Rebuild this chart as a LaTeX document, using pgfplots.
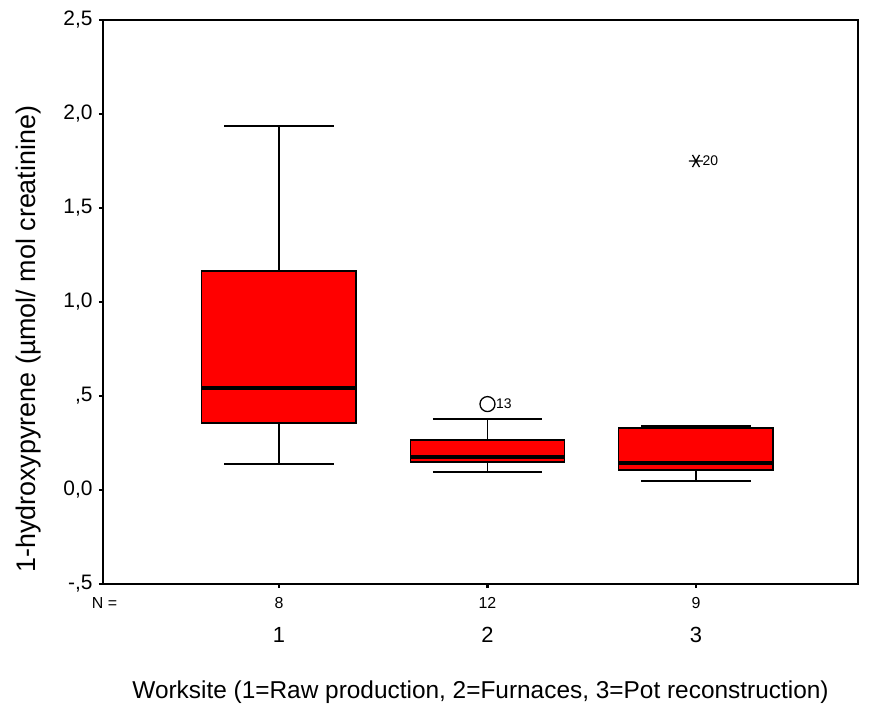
\documentclass[border=0pt]{standalone}
\usepackage{pgfplots}
\pgfplotsset{compat=1.18}
\usepgfplotslibrary{statistics}
\usepackage{fontspec}
\setmainfont{Liberation Sans}
\begin{document}
\begin{tikzpicture}
\useasboundingbox (-103bp,-135bp) rectangle (787bp,584bp);
\begin{axis}[
  at={(0,0)}, anchor=south west,
  scale only axis, width=755bp, height=564bp,
  xmin=0.156, xmax=3.777, ymin=-0.5, ymax=2.5,
  axis line style={line width=1.2bp},
  ytick={-0.5,0,0.5,1,1.5,2,2.5},
  yticklabels={{-,5},{0,0},{,5},{1,0},{1,5},{2,0},{2,5}},
  xtick={1,2,3}, xticklabels={1,2,3},
  tick align=outside, major tick length=4bp,
  tick style={line width=2.5bp, black},
  xtick pos=bottom, ytick pos=left,
  yticklabel style={font=\fontsize{21}{25}\selectfont, xshift=-3bp},
  xticklabel style={font=\fontsize{22}{26}\selectfont, yshift=-36bp},
  xlabel={Worksite (1=Raw production, 2=Furnaces, 3=Pot reconstruction)},
  xlabel style={font=\fontsize{24.5}{29}\selectfont, at={(axis description cs:0.5,0)}, anchor=center, yshift=-108bp},
  ylabel={1-hydroxypyrene (µmol/ mol creatinine)},
  ylabel style={font=\fontsize{27}{32}\selectfont, at={(axis description cs:-0.0987,0.434)}, anchor=center},
  boxplot/draw direction=y,
  boxplot/box extend=0.74,
  boxplot/whisker extend=0.523,
  boxplot/every box/.style={fill=red, draw=black, line width=1.3bp},
  boxplot/every whisker/.style={black, line width=1.3bp},
  boxplot/every median/.style={black, line width=4.5bp},
  clip=false,
]
\addplot+[mark=none, boxplot prepared={draw position=1, lower whisker=0.138, lower quartile=0.356, median=0.543, upper quartile=1.165, upper whisker=1.936}] coordinates {};
\addplot+[mark=none, boxplot prepared={draw position=2, lower whisker=0.096, lower quartile=0.149, median=0.176, upper quartile=0.266, upper whisker=0.378}] coordinates {};
\addplot+[mark=none, boxplot prepared={draw position=3, lower whisker=0.048, lower quartile=0.106, median=0.144, upper quartile=0.33, upper whisker=0.34}] coordinates {};
\addplot[only marks, mark=o, mark size=7.5bp, line width=1.3bp, black,
  nodes near coords, point meta=explicit symbolic,
  nodes near coords style={anchor=west, xshift=8bp, yshift=0bp, inner sep=0pt, font=\fontsize{14}{16}\selectfont}]
  coordinates {(2,0.457) [13]};
\addplot[only marks, mark=asterisk, mark size=7bp, line width=1.3bp, black, mark options={rotate=90},
  nodes near coords, point meta=explicit symbolic,
  nodes near coords style={anchor=west, xshift=6bp, yshift=0bp, inner sep=0pt, font=\fontsize{14}{16}\selectfont}]
  coordinates {(3,1.75) [20]};
\node[font=\fontsize{16}{19}\selectfont] at (axis cs:1,-0.5) [yshift=-19bp] {8};
\node[font=\fontsize{16}{19}\selectfont] at (axis cs:2,-0.5) [yshift=-19bp] {12};
\node[font=\fontsize{16}{19}\selectfont] at (axis cs:3,-0.5) [yshift=-19bp] {9};
\node[font=\fontsize{16}{19}\selectfont] at (rel axis cs:0,0) [xshift=1.5bp, yshift=-19bp] {N =};
\draw[line width=2.2bp] (rel axis cs:0,1) -- (rel axis cs:0,0) -- (rel axis cs:1,0);
\end{axis}
\end{tikzpicture}
\end{document}
